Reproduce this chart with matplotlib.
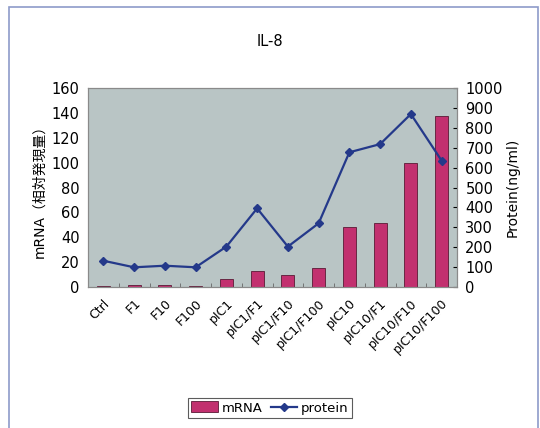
import matplotlib.pyplot as plt
from matplotlib.patches import Rectangle

plt.rcParams['font.family'] = ['DejaVu Sans', 'Noto Sans CJK JP']

categories = ["Ctrl", "F1", "F10", "F100", "pIC1", "pIC1/F1", "pIC1/F10",
              "pIC1/F100", "pIC10", "pIC10/F1", "pIC10/F10", "pIC10/F100"]
mrna = [1.0, 1.5, 2.0, 1.2, 6.4, 12.9, 9.6, 15.0, 48.5, 51.2, 99.4, 137.5]
protein = [132, 99, 107, 99, 203, 395, 203, 320, 677, 718, 869, 635]
mrna_ticks = [0, 20, 40, 60, 80, 100, 120, 140, 160]
protein_ticks = [0, 100, 200, 300, 400, 500, 600, 700, 800, 900, 1000]

dpi = 100
fig = plt.figure(figsize=(5.4, 4.28), dpi=dpi)

# outer chart frame
fig.patches.append(Rectangle((9 / 540, -0.05), 529 / 540, 1 - 7 / 428 + 0.05,
                             transform=fig.transFigure, fill=False,
                             edgecolor="#8d9bc9", linewidth=1.2))

ax = fig.add_axes([88 / 540, 141 / 428, 369 / 540, 199 / 428])
ax.set_facecolor("#b9c5c5")
x = list(range(len(categories)))

ax.bar(x, mrna, width=0.43, color="#c2306f", edgecolor="#5a1a35",
       linewidth=0.6, label="mRNA", zorder=2)
ax.set_ylim(0, 160)
ax.set_xlim(-0.5, len(categories) - 0.5)
ax.set_yticks(mrna_ticks)
ax.set_xticks(x)
ax.set_xticklabels(categories, rotation=45, ha="right", rotation_mode="anchor",
                   fontsize=9)
ax.tick_params(axis="x", length=0, pad=7)
ax.set_xticks([i + 0.5 for i in x[:-1]], minor=True)
ax.tick_params(axis="x", which="minor", direction="in", length=3, color="#666666")
ax.tick_params(axis="y", labelsize=10.5, length=0, pad=6)
ax.set_ylabel("mRNA（相対発現量）", fontsize=10, labelpad=4)

ax2 = ax.twinx()
ax2.plot(x, protein, color="#24398a", marker="D", markersize=4, linewidth=1.6,
         label="protein", zorder=3)
ax2.set_ylim(0, 1000)
ax2.set_yticks(protein_ticks)
ax2.tick_params(axis="y", labelsize=10.5, length=3, direction="in", pad=6)
ax2.set_ylabel("Protein(ng/ml)", fontsize=10, labelpad=2)

for a in (ax, ax2):
    for s in a.spines.values():
        s.set_color("#8a8a8a")
        s.set_linewidth(0.8)

fig.text(0.5, 1 - 42 / 428, "IL-8", ha="center", va="center", fontsize=10.5)

h1, l1 = ax.get_legend_handles_labels()
h2, l2 = ax2.get_legend_handles_labels()
leg = fig.legend(h1 + h2, l1 + l2, loc="center", ncol=2,
                 bbox_to_anchor=(270 / 540, 1 - 408 / 428), fontsize=9.5,
                 frameon=True, fancybox=False, handlelength=2.0,
                 handleheight=0.9, handletextpad=0.3, columnspacing=0.6,
                 borderpad=0.25)
leg.get_frame().set_edgecolor("#333333")
leg.get_frame().set_linewidth(0.8)

fig.savefig("out.png", dpi=dpi)
